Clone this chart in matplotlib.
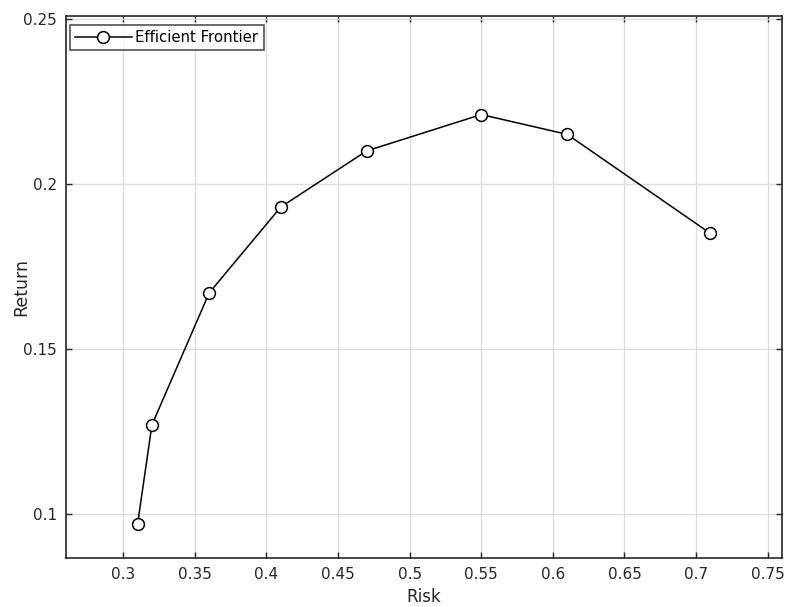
import matplotlib.pyplot as plt

risk = [0.31, 0.32, 0.36, 0.41, 0.47, 0.55, 0.61, 0.71]
ret = [0.097, 0.127, 0.167, 0.193, 0.210, 0.221, 0.215, 0.185]
xticks = [0.3, 0.35, 0.4, 0.45, 0.5, 0.55, 0.6, 0.65, 0.7, 0.75]
yticks = [0.1, 0.15, 0.2, 0.25]

plt.rcParams['font.family'] = ['DejaVu Sans']

fig = plt.figure(figsize=(7.89, 6.07), dpi=100)
ax = fig.add_axes([66 / 789, 1 - 558 / 607, (782 - 66) / 789, (558 - 15.5) / 607])

ax.plot(risk, ret, color='black', lw=1.1, marker='o', markersize=8.5,
        markerfacecolor='white', markeredgecolor='black', markeredgewidth=1.1,
        label='Efficient Frontier', zorder=3)

ax.set_xlim(0.26, 0.76)
ax.set_ylim(0.0867, 0.251)
ax.set_xticks(xticks)
ax.set_xticklabels([f'{t:g}' for t in xticks])
ax.set_yticks(yticks)
ax.set_yticklabels([f'{t:g}' for t in yticks])

ax.grid(True, color='#dcdcdc', lw=1)
ax.set_axisbelow(True)
ax.tick_params(direction='in', top=True, right=True, length=4.5, width=1,
               color='#262626', labelsize=11, labelcolor='#262626', pad=6.5)
for s in ax.spines.values():
    s.set_color('#262626')
    s.set_linewidth(1.2)

ax.set_xlabel('Risk', fontsize=12, color='#262626')
ax.xaxis.set_label_coords(0.5, -0.056)
ax.set_ylabel('Return', fontsize=12.5, color='#262626')
ax.yaxis.set_label_coords(-0.05, 0.5)

leg = ax.legend(loc='upper left', bbox_to_anchor=(4 / 716, 1 - 9.5 / 542.5),
                borderaxespad=0, fontsize=10.7, frameon=True, fancybox=False,
                edgecolor='#262626', handlelength=3.8, borderpad=0.35,
                handletextpad=0.25)
leg.get_frame().set_linewidth(1.2)

fig.savefig('out.png', dpi=100)
